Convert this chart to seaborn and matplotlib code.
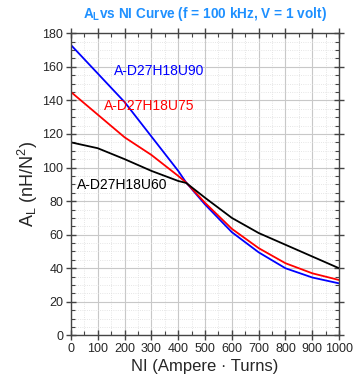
import numpy as np
import pandas as pd
import matplotlib
matplotlib.use("Agg")
import matplotlib.pyplot as plt
from matplotlib.ticker import MultipleLocator
import seaborn as sns

# NI (Ampere-Turns) vs A_L (nH/N^2)
ni = [0, 100, 200, 300, 400, 430, 500, 600, 700, 800, 900, 1000]
al_u90 = [173, 156, 139, 118.5, 98, 91, 78, 61.5, 49.5, 40, 34.5, 31]
al_u75 = [145, 131.5, 118, 107.5, 95, 91, 79, 63.5, 52, 43, 37, 33]
al_u60 = [115, 111.5, 105, 98, 92, 90.8, 82, 70, 61, 54, 47, 40]
names = ["A-D27H18U90", "A-D27H18U75", "A-D27H18U60"]
colors = ["#0000ff", "#ff0000", "#000000"]

df = pd.concat([
    pd.DataFrame({"NI": ni, "AL": v, "core": n})
    for n, v in zip(names, [al_u90, al_u75, al_u60])
])

sns.set_style("ticks")
plt.rcParams["font.family"] = ["Liberation Sans", "DejaVu Sans"]
plt.rcParams["mathtext.fontset"] = "custom"
plt.rcParams["mathtext.rm"] = "Liberation Sans"
plt.rcParams["mathtext.default"] = "regular"

fig = plt.figure(figsize=(3.6, 3.86), dpi=100)
ax = fig.add_axes([0.197, 0.131, 0.745, 0.783])

# grid first so the curves sit on top
ax.xaxis.set_major_locator(MultipleLocator(100))
ax.xaxis.set_minor_locator(MultipleLocator(50))
ax.yaxis.set_major_locator(MultipleLocator(20))
ax.yaxis.set_minor_locator(MultipleLocator(5))
ax.grid(which="major", color="#c8c8c8", lw=0.8)
ax.grid(which="minor", color="#dddddd", lw=0.6, ls=":")
ax.set_axisbelow(True)

sns.lineplot(data=df, x="NI", y="AL", hue="core", palette=dict(zip(names, colors)),
             legend=False, lw=1.3, ax=ax)

ax.set_xlim(0, 1000)
ax.set_ylim(0, 180)

for sp in ax.spines.values():
    sp.set_visible(True)
    sp.set_color("#444444")
    sp.set_linewidth(1.0)
ax.tick_params(which="major", direction="inout", length=7, width=1, color="#444444",
               top=True, right=True, labelsize=9, pad=2)
ax.tick_params(which="minor", direction="in", length=3, width=0.8, color="#444444",
               top=True, right=True)

ax.text(328, 157.5, "A-D27H18U90", color="#0000ff", fontsize=10, ha="center", va="center")
ax.text(291, 136.6, "A-D27H18U75", color="#ff0000", fontsize=10, ha="center", va="center")
ax.text(192, 89.6, "A-D27H18U60", color="#000000", fontsize=10, ha="center", va="center")

ax.set_xlabel("NI (Ampere \u00b7 Turns)", fontsize=12, labelpad=3)
ax.set_ylabel("A$_L$ (nH/N$^2$)", fontsize=13, labelpad=2)
fig.text(0.57, 0.965, "A$_L$vs NI Curve (f = 100 kHz, V = 1 volt)", color="#1e90ff",
         fontsize=9.8, fontweight="bold", ha="center", va="center")

fig.savefig("out.png", dpi=100)
